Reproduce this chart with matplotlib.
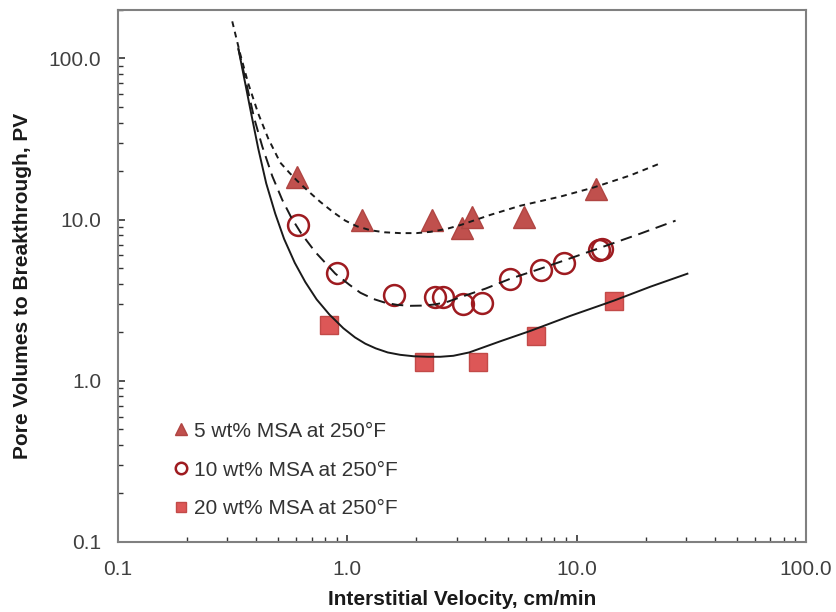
import numpy as np
import matplotlib
matplotlib.use('Agg')
import matplotlib.pyplot as plt
from matplotlib.ticker import FixedLocator, FixedFormatter, LogLocator, NullFormatter

plt.rcParams['font.family'] = ['Liberation Sans', 'DejaVu Sans']

# measured breakthrough points
v_5 = [0.605, 1.16, 2.35, 3.15, 3.5, 5.87, 12.1]
pv_5 = [18.5, 9.9, 9.9, 8.9, 10.4, 10.4, 15.6]

v_10 = [0.61, 0.905, 1.60, 2.40, 2.62, 3.18, 3.88, 5.1, 6.96, 8.77, 12.5, 12.9]
pv_10 = [9.3, 4.69, 3.42, 3.33, 3.33, 3.0, 3.05, 4.3, 4.9, 5.4, 6.5, 6.6]

v_20 = [0.83, 2.17, 3.73, 6.62, 14.5]
pv_20 = [2.23, 1.31, 1.31, 1.9, 3.14]

# model curves
fit_v_5 = [0.315, 0.341, 0.370, 0.409, 0.452, 0.510, 0.560, 0.605, 0.680, 0.762,
           0.870, 0.980, 1.10, 1.26, 1.45, 1.70, 2.00, 2.30, 2.70, 3.11, 4.20,
           5.68, 8.49, 11.8, 17.1, 23.6]
fit_pv_5 = [170, 107, 69.9, 45.5, 31.9, 22.6, 19.5, 17.4, 14.9, 12.9,
            11.1, 9.86, 9.1, 8.6, 8.35, 8.25, 8.25, 8.4, 8.75, 9.25, 10.7,
            12.2, 13.9, 15.8, 18.8, 22.6]

fit_v_10 = [0.335, 0.363, 0.393, 0.426, 0.471, 0.520, 0.570, 0.630, 0.725, 0.887,
            1.02, 1.14, 1.30, 1.465, 1.65, 1.88, 2.15, 2.42, 2.75, 3.11, 4.00,
            5.14, 6.95, 8.75, 12.7, 18.9, 27.0]
fit_pv_10 = [115, 69.9, 42.4, 28.4, 18.6, 13.3, 10.3, 8.2, 6.3, 4.62,
             3.95, 3.52, 3.22, 3.05, 2.96, 2.92, 2.93, 2.98, 3.1, 3.3, 3.73,
             4.30, 4.96, 5.56, 6.70, 8.18, 9.86]

fit_v_20 = [0.335, 0.359, 0.381, 0.409, 0.443, 0.485, 0.530, 0.590, 0.656, 0.735,
            0.835, 0.961, 1.08, 1.198, 1.33, 1.50, 1.70, 1.95, 2.25, 2.545, 2.90,
            3.40, 4.65, 6.28, 9.39, 14.5, 21.0, 30.4]
fit_pv_20 = [115, 69.9, 45.5, 27.6, 16.8, 10.9, 7.6, 5.4, 4.1, 3.2,
             2.58, 2.12, 1.86, 1.70, 1.59, 1.50, 1.45, 1.42, 1.41, 1.41, 1.43,
             1.50, 1.76, 2.04, 2.53, 3.14, 3.84, 4.62]

ticks = [0.1, 1.0, 10.0, 100.0]
tick_labels = ['0.1', '1.0', '10.0', '100.0']

fig = plt.figure(figsize=(8.36, 6.12), dpi=100)
ax = fig.add_axes([0.1411, 0.1144, 0.823, 0.8693])

ax.plot(v_5, pv_5, ls='none', marker='^', ms=15.5, color='#c0504d',
        mec='#b04542', label='5 wt% MSA at 250\u00b0F', zorder=2)
ax.plot(v_10, pv_10, ls='none', marker='o', ms=15, mfc='none',
        mec='#9e1b20', mew=1.8, label='10 wt% MSA at 250\u00b0F', zorder=2)
ax.plot(v_20, pv_20, ls='none', marker='s', ms=13, color='#dd5757',
        mec='#c24a48', label='20 wt% MSA at 250\u00b0F', zorder=2)

ax.plot(fit_v_5, fit_pv_5, color='#1a1a1a', lw=1.4, dashes=(3, 2.5), zorder=3)
ax.plot(fit_v_10, fit_pv_10, color='#1a1a1a', lw=1.4, dashes=(6, 3.5), zorder=3)
ax.plot(fit_v_20, fit_pv_20, color='#1a1a1a', lw=1.4, zorder=3)

ax.set_xscale('log')
ax.set_yscale('log')
ax.set_xlim(0.1, 100)
ax.set_ylim(0.1, 200)

for axis in (ax.xaxis, ax.yaxis):
    axis.set_major_locator(FixedLocator(ticks))
    axis.set_major_formatter(FixedFormatter(tick_labels))
    axis.set_minor_locator(LogLocator(base=10, subs=np.arange(2, 10)))
    axis.set_minor_formatter(NullFormatter())

ax.tick_params(which='both', direction='in', color='#333333', labelsize=15,
               labelcolor='#404040')
ax.tick_params(which='major', length=5, width=1.2)
ax.tick_params(which='minor', length=3.5, width=1.0)
ax.tick_params(axis='x', pad=13)
ax.tick_params(axis='y', pad=12)

for s in ax.spines.values():
    s.set_color('#808080')
    s.set_linewidth(1.5)

ax.set_xlabel('Interstitial Velocity, cm/min', fontsize=15, fontweight='bold',
              color='#1a1a1a')
ax.set_ylabel('Pore Volumes to Breakthrough, PV', fontsize=15, fontweight='bold',
              color='#1a1a1a')
ax.xaxis.set_label_coords(0.5, -0.090)
ax.yaxis.set_label_coords(-0.125, 0.481)

ax.legend(loc='upper left', bbox_to_anchor=(0.082, 0.226), frameon=False,
          fontsize=15, markerscale=0.55, handlelength=0.6, handletextpad=0.35,
          labelspacing=0.95, borderpad=0, borderaxespad=0, labelcolor='#333333')

fig.savefig('out.png', dpi=100)
